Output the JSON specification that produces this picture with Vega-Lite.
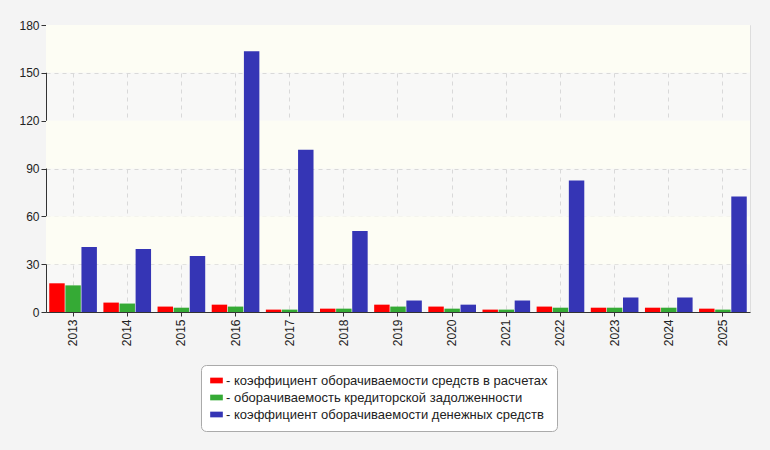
{
  "$schema": "https://vega.github.io/schema/vega-lite/v6.json",
  "autosize": {"type": "none"},
  "width": 704,
  "height": 287,
  "padding": {"left": 46, "top": 25, "right": 20, "bottom": 138},
  "background": "#f4f4f4",
  "datasets": {
    "bands": [
      {"lo": 30, "hi": 60},
      {"lo": 90, "hi": 120},
      {"lo": 150, "hi": 180}
    ],
    "bars": [
      {"year": "2013", "series": "- коэффициент оборачиваемости средств в расчетах", "value": 18.0},
      {"year": "2013", "series": "- оборачиваемость кредиторской задолженности", "value": 16.7},
      {"year": "2013", "series": "- коэффициент оборачиваемости денежных средств", "value": 40.8},
      {"year": "2014", "series": "- коэффициент оборачиваемости средств в расчетах", "value": 5.9},
      {"year": "2014", "series": "- оборачиваемость кредиторской задолженности", "value": 5.3},
      {"year": "2014", "series": "- коэффициент оборачиваемости денежных средств", "value": 39.5},
      {"year": "2015", "series": "- коэффициент оборачиваемости средств в расчетах", "value": 3.4},
      {"year": "2015", "series": "- оборачиваемость кредиторской задолженности", "value": 2.7},
      {"year": "2015", "series": "- коэффициент оборачиваемости денежных средств", "value": 35.1},
      {"year": "2016", "series": "- коэффициент оборачиваемости средств в расчетах", "value": 4.6},
      {"year": "2016", "series": "- оборачиваемость кредиторской задолженности", "value": 3.4},
      {"year": "2016", "series": "- коэффициент оборачиваемости денежных средств", "value": 163.5},
      {"year": "2017", "series": "- коэффициент оборачиваемости средств в расчетах", "value": 1.5},
      {"year": "2017", "series": "- оборачиваемость кредиторской задолженности", "value": 1.5},
      {"year": "2017", "series": "- коэффициент оборачиваемости денежных средств", "value": 101.8},
      {"year": "2018", "series": "- коэффициент оборачиваемости средств в расчетах", "value": 2.1},
      {"year": "2018", "series": "- оборачиваемость кредиторской задолженности", "value": 2.1},
      {"year": "2018", "series": "- коэффициент оборачиваемости денежных средств", "value": 50.8},
      {"year": "2019", "series": "- коэффициент оборачиваемости средств в расчетах", "value": 4.6},
      {"year": "2019", "series": "- оборачиваемость кредиторской задолженности", "value": 3.4},
      {"year": "2019", "series": "- коэффициент оборачиваемости денежных средств", "value": 7.2},
      {"year": "2020", "series": "- коэффициент оборачиваемости средств в расчетах", "value": 3.4},
      {"year": "2020", "series": "- оборачиваемость кредиторской задолженности", "value": 2.1},
      {"year": "2020", "series": "- коэффициент оборачиваемости денежных средств", "value": 4.6},
      {"year": "2021", "series": "- коэффициент оборачиваемости средств в расчетах", "value": 1.5},
      {"year": "2021", "series": "- оборачиваемость кредиторской задолженности", "value": 1.5},
      {"year": "2021", "series": "- коэффициент оборачиваемости денежных средств", "value": 7.2},
      {"year": "2022", "series": "- коэффициент оборачиваемости средств в расчетах", "value": 3.4},
      {"year": "2022", "series": "- оборачиваемость кредиторской задолженности", "value": 2.7},
      {"year": "2022", "series": "- коэффициент оборачиваемости денежных средств", "value": 82.5},
      {"year": "2023", "series": "- коэффициент оборачиваемости средств в расчетах", "value": 2.7},
      {"year": "2023", "series": "- оборачиваемость кредиторской задолженности", "value": 2.7},
      {"year": "2023", "series": "- коэффициент оборачиваемости денежных средств", "value": 9.1},
      {"year": "2024", "series": "- коэффициент оборачиваемости средств в расчетах", "value": 2.7},
      {"year": "2024", "series": "- оборачиваемость кредиторской задолженности", "value": 2.7},
      {"year": "2024", "series": "- коэффициент оборачиваемости денежных средств", "value": 9.1},
      {"year": "2025", "series": "- коэффициент оборачиваемости средств в расчетах", "value": 2.1},
      {"year": "2025", "series": "- оборачиваемость кредиторской задолженности", "value": 1.5},
      {"year": "2025", "series": "- коэффициент оборачиваемости денежных средств", "value": 72.4}
    ]
  },
  "layer": [
    {
      "data": {"name": "bands"},
      "mark": {"type": "rect", "color": "#fdfdf4"},
      "encoding": {
        "y": {
          "field": "lo",
          "type": "quantitative",
          "title": null,
          "scale": {"domain": [0, 180], "nice": false},
          "axis": {
            "values": [0, 30, 60, 90, 120, 150, 180],
            "labelFontSize": 12,
            "labelColor": "#222",
            "grid": true,
            "gridDash": [4, 4],
            "gridColor": "#d9d9d9",
            "domainColor": "#333",
            "tickColor": "#333",
            "tickSize": 5
          }
        },
        "y2": {"field": "hi"}
      }
    },
    {
      "data": {"name": "bars"},
      "mark": {"type": "bar"},
      "encoding": {
        "x": {
          "field": "year",
          "type": "nominal",
          "title": null,
          "scale": {"paddingInner": 0.12, "paddingOuter": 0.06},
          "axis": {
            "labelAngle": -90,
            "labelAlign": "right",
            "labelBaseline": "middle",
            "labelFontSize": 12,
            "labelColor": "#222",
            "labelPadding": 3,
            "grid": true,
            "gridDash": [4, 4],
            "gridColor": "#d9d9d9",
            "ticks": true,
            "tickSize": 4,
            "tickColor": "#333",
            "domainColor": "#333"
          }
        },
        "xOffset": {
          "field": "series",
          "type": "nominal",
          "sort": [
            "- коэффициент оборачиваемости средств в расчетах",
            "- оборачиваемость кредиторской задолженности",
            "- коэффициент оборачиваемости денежных средств"
          ],
          "scale": {"paddingInner": 0.04}
        },
        "y": {"field": "value", "type": "quantitative"},
        "color": {
          "field": "series",
          "type": "nominal",
          "sort": [
            "- коэффициент оборачиваемости средств в расчетах",
            "- оборачиваемость кредиторской задолженности",
            "- коэффициент оборачиваемости денежных средств"
          ],
          "scale": {
            "domain": [
              "- коэффициент оборачиваемости средств в расчетах",
              "- оборачиваемость кредиторской задолженности",
              "- коэффициент оборачиваемости денежных средств"
            ],
            "range": ["#ff0000", "#35aa35", "#3535b5"]
          },
          "legend": {
            "orient": "none",
            "legendX": 155,
            "legendY": 340,
            "title": null,
            "fillColor": "#ffffff",
            "strokeColor": "#aaaaaa",
            "cornerRadius": 5,
            "padding": 9,
            "symbolType": "M-1,-0.45 L1,-0.45 L1,0.45 L-1,0.45 Z",
            "symbolSize": 160,
            "symbolStrokeWidth": 0,
            "labelFontSize": 13,
            "labelColor": "#222",
            "labelLimit": 420,
            "rowPadding": 3,
            "labelOffset": 3
          }
        }
      }
    }
  ],
  "config": {
    "font": "Liberation Sans",
    "view": {"fill": "#f8f8f7", "stroke": "#dddddd"}
  }
}
